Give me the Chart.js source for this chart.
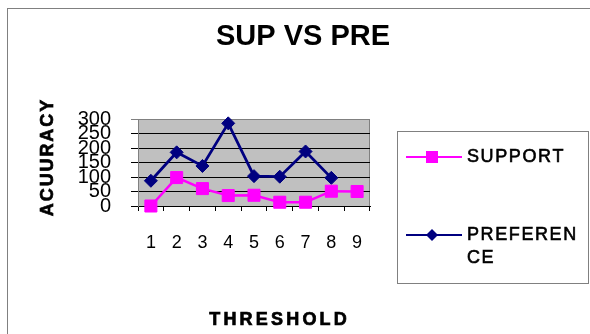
<!DOCTYPE html>
<html>
<head>
<meta charset="utf-8">
<title>SUP VS PRE</title>
<script src="https://cdn.jsdelivr.net/npm/chart.js@4.4.1/dist/chart.umd.min.js"></script>
<style>
  html, body { margin: 0; padding: 0; background: #fff; }
  #wrap { width: 590px; height: 334px; }
</style>
</head>
<body>
<div id="wrap"><canvas id="supVsPre" width="590" height="334"></canvas></div>
<script>
// data
const thresholds = ["1", "2", "3", "4", "5", "6", "7", "8", "9"];
const support = [0, 98, 60, 36, 37, 13, 13, 51, 50];
const preference = [87, 185, 138, 285, 103, 101, 188, 97, null];
const yMin = 0, yMax = 300, yStep = 50;

const FONT = "'Liberation Sans', Arial, sans-serif";

// draws text letter by letter with extra spacing, like the stretched Excel text
function spacedText(ctx, text, x, y, spacing, align, stroke) {
    const chars = [...text];
    const widths = chars.map(c => ctx.measureText(c).width);
    const total = widths.reduce((s, w) => s + w, 0) + spacing * (chars.length - 1);
    let cx = align === 'left' ? x : x - total / 2;
    ctx.textAlign = 'left';
    chars.forEach((c, i) => {
        ctx.fillText(c, cx, y);
        if (stroke) {
            ctx.lineWidth = stroke;
            ctx.strokeText(c, cx, y);
        }
        cx += widths[i] + spacing;
    });
}

// frame, grey plot area, title, axis titles and the boxed legend (Excel look)
const excelLook = {
    id: 'excelLook',
    beforeDraw(chart) {
        const ctx = chart.ctx;
        const a = chart.chartArea;
        ctx.save();
        ctx.fillStyle = '#fff';
        ctx.fillRect(0, 0, chart.width, chart.height);
        ctx.strokeStyle = '#808080';
        ctx.lineWidth = 1;
        ctx.strokeRect(7.5, 8.5, 800, 800);
        ctx.fillStyle = '#c0c0c0';
        ctx.fillRect(a.left, a.top, a.right - a.left, a.bottom - a.top);
        ctx.strokeRect(a.left + 0.5, a.top + 0.5, a.right - a.left - 1, a.bottom - a.top);
        ctx.restore();
    },
    afterDraw(chart) {
        const ctx = chart.ctx;
        ctx.save();
        ctx.fillStyle = '#000';
        ctx.strokeStyle = '#000';
        ctx.textBaseline = 'middle';

        // title
        ctx.font = "bold 29px " + FONT;
        ctx.textAlign = 'center';
        ctx.fillText("SUP VS PRE", 303, 37);

        // x title
        ctx.font = "bold 18px " + FONT;
        spacedText(ctx, "THRESHOLD", 278, 320, 3.2, 'center', 0.7);

        // y title
        ctx.save();
        ctx.translate(48, 158);
        ctx.rotate(-Math.PI / 2);
        spacedText(ctx, "ACUURACY", 0, 0, 1.9, 'center', 0.7);
        ctx.restore();

        // legend box
        ctx.strokeStyle = '#808080';
        ctx.lineWidth = 1;
        ctx.fillStyle = '#fff';
        ctx.fillRect(397.5, 131.5, 191, 152);
        ctx.strokeRect(397.5, 131.5, 191, 152);

        const rows = [157, 235];
        chart.data.datasets.forEach((ds, i) => {
            const y = rows[i];
            ctx.strokeStyle = ds.borderColor;
            ctx.lineWidth = 2;
            ctx.beginPath();
            ctx.moveTo(406, y);
            ctx.lineTo(462, y);
            ctx.stroke();
            ctx.fillStyle = ds.backgroundColor;
            ctx.beginPath();
            if (ds.pointStyle === 'rect') {
                ctx.rect(426, y - 6, 12, 12);
            } else {
                ctx.moveTo(432 - 6, y);
                ctx.lineTo(432, y - 6);
                ctx.lineTo(432 + 6, y);
                ctx.lineTo(432, y + 6);
                ctx.closePath();
            }
            ctx.fill();

            ctx.fillStyle = '#000';
            ctx.strokeStyle = '#000';
            ctx.font = "18px " + FONT;
            const label = ds.label;
            const lines = label.length > 8 ? [label.slice(0, 8), label.slice(8)] : [label];
            lines.forEach((t, k) => spacedText(ctx, t, 467, y + k * 23, 1.6, 'left', 0.6));
        });
        ctx.restore();
    }
};

const ctx = document.getElementById('supVsPre');

const supVsPreChart = new Chart(ctx, {
    type: 'line',
    data: {
        labels: thresholds,
        datasets: [
            {
                label: "SUPPORT",
                data: support,
                borderColor: '#ff00ff',
                backgroundColor: '#ff00ff',
                borderWidth: 2.5,
                pointStyle: 'rect',
                pointRadius: 8.5,
                pointBorderWidth: 1,
                tension: 0,
                clip: false,
            },
            {
                label: "PREFERENCE",
                data: preference,
                borderColor: '#000080',
                backgroundColor: '#000080',
                borderWidth: 2.8,
                pointStyle: 'rectRot',
                pointRadius: 6.5,
                pointBorderWidth: 1,
                tension: 0,
                clip: false,
            },
        ]
    },
    options: {
        responsive: false,
        animation: false,
        devicePixelRatio: 1,
        layout: {
            padding: { left: 0, right: 220, top: 119, bottom: 0 }
        },
        plugins: {
            legend: { display: false },
            title: { display: false },
            tooltip: { enabled: false },
        },
        scales: {
            x: {
                offset: true,
                afterFit: (scale) => { scale.height = 128; },
                grid: {
                    offset: true,
                    drawOnChartArea: false,
                    drawTicks: true,
                    tickLength: 5,
                    color: '#000',
                },
                border: { color: '#000', width: 1 },
                ticks: {
                    color: '#000',
                    padding: 21,
                    maxRotation: 0,
                    autoSkip: false,
                    font: { family: FONT, size: 18 },
                },
            },
            y: {
                min: yMin,
                max: yMax,
                afterFit: (scale) => { scale.width = 138; },
                grid: {
                    color: (c) => (c.tick && c.tick.value === yMax) ? '#808080' : '#000',
                    lineWidth: 1,
                    drawTicks: true,
                    tickLength: 7,
                },
                border: { color: '#808080', width: 1 },
                ticks: {
                    stepSize: yStep,
                    autoSkip: false,
                    color: '#000',
                    padding: 20,
                    font: { family: FONT, size: 20 },
                },
            }
        }
    },
    plugins: [excelLook]
});
</script>
</body>
</html>
